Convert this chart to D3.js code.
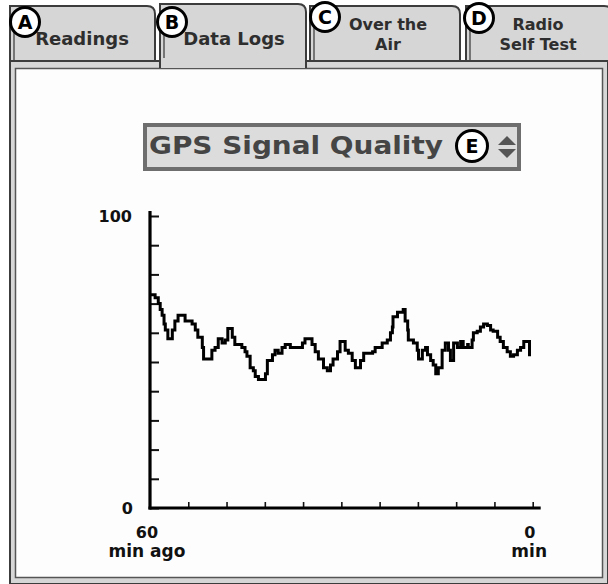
<!DOCTYPE html>
<html>
<head>
<meta charset="utf-8">
<script src="https://cdn.jsdelivr.net/npm/d3@7"></script>
<style>
  body { margin: 0; background: #fff; }
  svg { display: block; }
  text { font-family: "DejaVu Sans", Verdana, sans-serif; font-weight: bold; }
</style>
</head>
<body>
<svg id="chart" width="608" height="584"></svg>
<script>
// ---- data ----
const minutesAgo = [
  60.0, 59.2, 58.7, 58.4, 58.1, 57.8, 57.6, 57.2, 56.5, 56.1,
  55.6, 55.0, 54.5, 53.4, 52.9, 52.5, 51.8, 51.6, 51.1, 50.3,
  49.8, 49.3, 48.7, 48.2, 47.8, 47.1, 46.7, 45.6, 45.1, 44.8,
  44.3, 43.8, 43.5, 43.0, 41.9, 41.6, 40.8, 40.4, 39.9, 39.3,
  38.8, 38.0, 36.8, 36.1, 35.7, 34.6, 34.1, 33.6, 32.8, 32.2,
  31.7, 31.3, 30.6, 30.2, 29.4, 28.9, 28.3, 27.8, 27.0, 26.5,
  25.1, 24.7, 23.6, 22.8, 22.3, 22.0, 21.9, 21.2, 20.3, 20.0,
  19.6, 19.5, 18.7, 18.1, 17.9, 17.3, 16.8, 16.5, 16.0, 15.6,
  15.2, 14.8, 14.2, 13.7, 13.2, 12.9, 12.4, 11.8, 11.3, 10.9,
  10.2, 10.1, 9.5, 9.3, 8.7, 8.2, 7.7, 7.1, 6.6, 6.2,
  5.5, 5.1, 4.6, 4.0, 3.5, 3.0, 2.4, 1.9, 1.4, 0.5
];
const signalQuality = [
  73, 72, 70, 68, 66, 63, 61, 58, 61, 64,
  66, 66, 64, 63, 61, 58.5, 55, 51, 51, 54,
  55, 58, 56.5, 57.5, 61.5, 58.5, 56, 55, 53.5, 52,
  48, 47, 45, 44, 46, 50.5, 52.5, 54, 53, 55,
  56, 55, 55, 56.5, 58, 56, 53.5, 51, 48, 47,
  49, 51, 53.5, 57, 54, 53, 50.5, 48, 50.5, 53,
  53.5, 55, 56.5, 57.5, 60, 62, 65.5, 67, 68, 64,
  61, 57.5, 56.5, 54, 51, 54, 55, 52.5, 50.5, 49,
  46, 48, 54, 56.5, 54, 50.5, 56.5, 55, 57, 55,
  56, 55, 57.5, 60, 60.5, 62, 63, 62.5, 61, 60.5,
  58.5, 57, 55, 53.5, 52, 52.5, 54, 55, 57, 52
];
const yTickValues = [0, 10, 20, 30, 40, 50, 60, 70, 80, 90, 100];
const yTickLabels = ["0", "100"];
const xTickValues = [54, 48, 42, 36, 30, 24, 18, 12, 6, 0];
const xStartLabel = ["60", "min ago"];
const xEndLabel = ["0", "min"];
const tabLetters = ["A", "B", "C", "D"];
const tabLabels = [["Readings"], ["Data Logs"], ["Over the", "Air"], ["Radio", "Self Test"]];
const dropdownTitle = "GPS Signal Quality";
const dropdownLetter = "E";

// ---- drawing ----
const svg = d3.select("#chart");

// panel frame
svg.append("rect").attr("x", 10).attr("y", 61).attr("width", 598).attr("height", 523)
  .attr("fill", "#d6d6d6").attr("stroke", "#3c3c3c").attr("stroke-width", 2);
svg.append("rect").attr("x", 15.5).attr("y", 68.5).attr("width", 587).attr("height", 509)
  .attr("fill", "#fdfdfd").attr("stroke", "#555").attr("stroke-width", 1.5);

// tabs
const tabs = [
  {x0: 10, x1: 155, top: 6, bottom: 61},
  {x0: 160, x1: 306, top: 4, bottom: 68},
  {x0: 310, x1: 460, top: 6, bottom: 61},
  {x0: 466, x1: 612, top: 6, bottom: 61}
];
function tabPath(t) {
  const r = 8;
  return `M${t.x0},${t.bottom} L${t.x0},${t.top} L${t.x1 - r},${t.top} Q${t.x1},${t.top} ${t.x1},${t.top + r} L${t.x1},${t.bottom}`;
}
tabs.forEach((t, i) => {
  const g = svg.append("g");
  g.append("path").attr("d", tabPath(t) + " Z").attr("fill", "#d6d6d6").attr("stroke", "none");
  g.append("path").attr("d", tabPath(t)).attr("fill", "none").attr("stroke", "#3c3c3c").attr("stroke-width", 2);
  // inner bevel line
  g.append("path").attr("d", `M${t.x0 + 4},${t.bottom} L${t.x0 + 4},${t.top + 14}`)
    .attr("fill", "none").attr("stroke", "#555").attr("stroke-width", 1.5);
  if (i !== 1) {
    g.append("line").attr("x1", t.x0).attr("x2", t.x1).attr("y1", t.bottom).attr("y2", t.bottom)
      .attr("stroke", "#3c3c3c").attr("stroke-width", 2);
  }
});
// cover frame top line under selected tab
svg.append("rect").attr("x", 161).attr("y", 58).attr("width", 144).attr("height", 10).attr("fill", "#d6d6d6");

const tabTextCfg = [
  {cx: 82, ys: [45], size: 18},
  {cx: 234, ys: [45], size: 18},
  {cx: 388, ys: [30, 50], size: 16},
  {cx: 538, ys: [30, 50], size: 16}
];
tabLabels.forEach((lines, i) => {
  lines.forEach((s, j) => {
    svg.append("text").attr("x", tabTextCfg[i].cx).attr("y", tabTextCfg[i].ys[j])
      .attr("text-anchor", "middle").attr("font-size", tabTextCfg[i].size)
      .attr("fill", "#2e2e2e").text(s);
  });
});

const circlePos = [[25, 22], [172, 22], [325, 17], [479, 18]];
function marker(cx, cy, r, letter) {
  svg.append("circle").attr("cx", cx).attr("cy", cy).attr("r", r)
    .attr("fill", "#fff").attr("stroke", "#000").attr("stroke-width", 3);
  svg.append("text").attr("x", cx).attr("y", cy + 7).attr("text-anchor", "middle")
    .attr("font-size", 19).attr("fill", "#000").text(letter);
}
tabLetters.forEach((l, i) => marker(circlePos[i][0], circlePos[i][1], 14.5, l));

// dropdown
svg.append("rect").attr("x", 145).attr("y", 125).attr("width", 374).attr("height", 44)
  .attr("fill", "#dcdcdc").attr("stroke", "#6e6e6e").attr("stroke-width", 4);
svg.append("text").attr("x", 149).attr("y", 154).attr("font-size", 24).attr("fill", "#454545")
  .attr("textLength", 294).attr("lengthAdjust", "spacingAndGlyphs").text(dropdownTitle);
marker(472, 146, 15.5, dropdownLetter);
svg.append("path").attr("d", "M498,145 L507,136 L516,145 Z").attr("fill", "#555");
svg.append("path").attr("d", "M498,149 L507,158 L516,149 Z").attr("fill", "#555");

// scales
const x = d3.scaleLinear().domain([60, 0]).range([150, 532.7]);
const y = d3.scaleLinear().domain([0, 100]).range([508, 216]);

// y axis ticks (pointing right)
const yAxis = svg.append("g").attr("transform", "translate(150,0)")
  .call(d3.axisRight(y).tickValues(yTickValues).tickSize(9).tickFormat(""));
yAxis.select(".domain").remove();
yAxis.selectAll(".tick line").attr("stroke", "#111").attr("stroke-width", 2);

// x axis ticks (pointing up)
const xAxis = svg.append("g").attr("transform", "translate(0,508)")
  .call(d3.axisTop(x).tickValues(xTickValues).tickSize(6).tickFormat(""));
xAxis.select(".domain").remove();
xAxis.selectAll(".tick line").attr("stroke", "#111").attr("stroke-width", 1.6);

// axis lines
svg.append("line").attr("x1", x(60)).attr("x2", x(60)).attr("y1", y(100) - 5).attr("y2", y(0) + 1.5)
  .attr("stroke", "#000").attr("stroke-width", 3.2);
svg.append("line").attr("x1", x(60) - 1.5).attr("x2", x(0) + 8).attr("y1", y(0)).attr("y2", y(0))
  .attr("stroke", "#000").attr("stroke-width", 3.2);

// y labels
svg.append("text").attr("x", 132).attr("y", y(100) + 6).attr("text-anchor", "end")
  .attr("font-size", 16).attr("fill", "#111").text(yTickLabels[1]);
svg.append("text").attr("x", 133).attr("y", y(0) + 6).attr("text-anchor", "end")
  .attr("font-size", 16).attr("fill", "#111").text(yTickLabels[0]);

// x labels
svg.append("text").attr("x", x(60) - 3).attr("y", 538).attr("text-anchor", "middle")
  .attr("font-size", 16).attr("fill", "#111").text(xStartLabel[0]);
svg.append("text").attr("x", x(60) - 3).attr("y", 557).attr("text-anchor", "middle")
  .attr("font-size", 17).attr("fill", "#111").text(xStartLabel[1]);
svg.append("text").attr("x", x(0) - 3).attr("y", 538).attr("text-anchor", "middle")
  .attr("font-size", 16).attr("fill", "#111").text(xEndLabel[0]);
svg.append("text").attr("x", 547).attr("y", 557).attr("text-anchor", "end")
  .attr("font-size", 17).attr("fill", "#111").text(xEndLabel[1]);

// data line
const pts = minutesAgo.map((m, i) => ({m, v: signalQuality[i]}));
svg.append("path").datum(pts)
  .attr("d", d3.line().x(d => x(d.m)).y(d => y(d.v)).curve(d3.curveStepAfter))
  .attr("fill", "none").attr("stroke", "#000").attr("stroke-width", 3)
  .attr("stroke-linejoin", "miter");
</script>
</body>
</html>
